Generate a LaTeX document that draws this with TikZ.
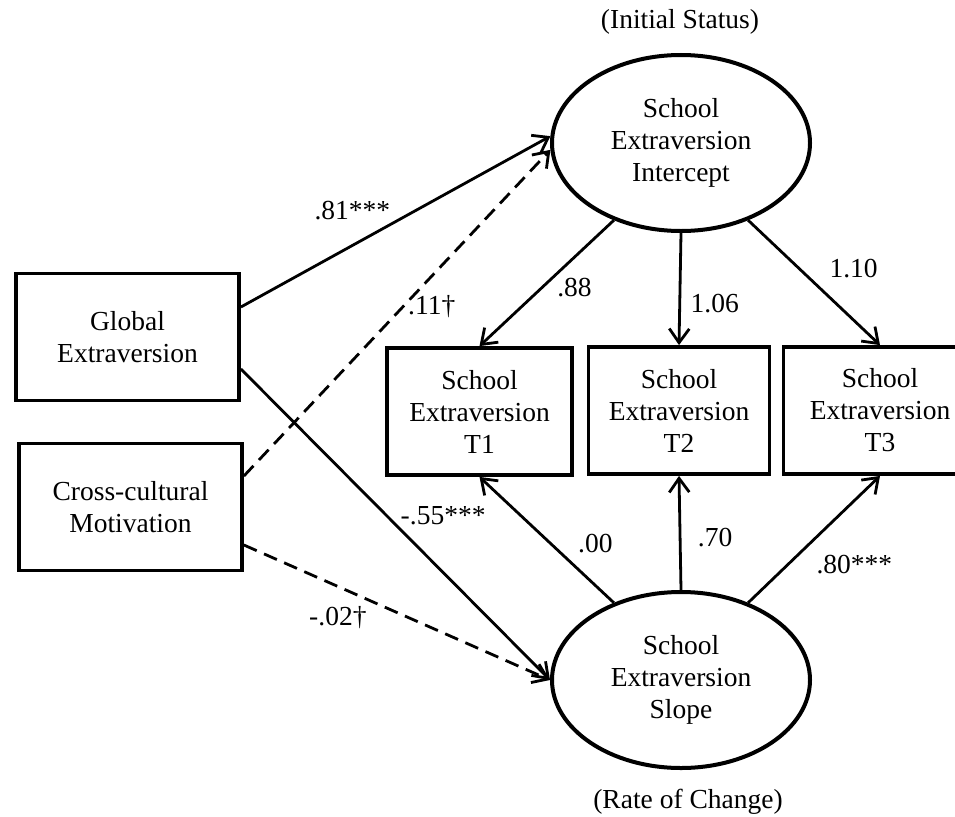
\documentclass[tikz,border=0pt]{standalone}
\usepackage{fontspec}
\setmainfont{Liberation Serif}
\usetikzlibrary{shapes.geometric,arrows.meta}

\tikzstyle{latent}=[ellipse, draw, line width=4pt, inner sep=0pt, minimum width=258pt, minimum height=176pt, align=center]
\tikzstyle{observed}=[rectangle, draw, line width=3.8pt, minimum height=127pt, align=center]
\tikzstyle{coef}=[inner sep=0pt]
\tikzstyle{weak}=[dash pattern=on 14pt off 8pt]

\begin{document}
\begin{tikzpicture}[x=1pt, y=-1pt, line width=2.8pt, >={Straight Barb[length=14pt,width=20pt]}, font=\fontsize{27.5}{32}\selectfont]
            \useasboundingbox (0,0) rectangle (955,816);
            \node[observed, minimum width=223pt] at (127.5,337) (G) {Global\\Extraversion};
            \node[observed, minimum width=223pt] at (130.5,507) (C) {Cross-cultural\\Motivation};
            \node[latent] at (681,143) (I) {School\\Extraversion\\Intercept};
            \node[latent] at (681,680) (S) {School\\Extraversion\\Slope};
            \node[observed, minimum width=185pt] at (479.5,411.5) (T1) {School\\Extraversion\\T1};
            \node[observed, minimum width=181pt] at (679,410.5) (T2) {School\\Extraversion\\T2};
            \node[observed, minimum width=193pt] at (880,410.5) (T3) {School\\Extraversion\\T3};
            \node[coef] at (680,22) (IS) {(Initial Status)};
            \node[coef] at (688,802) (RC) {(Rate of Change)};
            \draw ([yshift=30pt]G.east) edge[->] node[coef, pos=0.36, shift={(0,-35)}] {.81***} (I.177);
            \draw ([yshift=31pt]C.east) edge[->, weak] node[coef, pos=0.6, shift={(4,26)}] {.11†} (I.183);
            \draw ([yshift=-32pt]G.east) edge[->] node[coef, pos=0.473, shift={(56,0)}] {-.55***} (S.west);
            \draw ([yshift=-38pt]C.east) edge[->, weak] node[coef, pos=0.307, shift={(0,31.5)}] {-.02†} (S.west);
            \draw (I.229) edge[->] node[coef, pos=0.535, shift={(32.5,0)}] {.88} (T1.north);
            \draw (I.south) edge[->] node[coef, pos=0.625, shift={(35,0)}] {1.06} (T2.north);
            \draw (I.311) edge[->] node[coef, pos=0.39, shift={(54,0)}] {1.10} (T3.north);
            \draw (S.131) edge[->] node[coef, pos=0.472, shift={(45,0)}] {.00} (T1.south);
            \draw (S.north) edge[->] node[coef, pos=0.458, shift={(35,0)}] {.70} (T2.south);
            \draw (S.49) edge[->] node[coef, pos=0.305, shift={(66,0)}] {.80***} (T3.south);
\end{tikzpicture}
\end{document}
